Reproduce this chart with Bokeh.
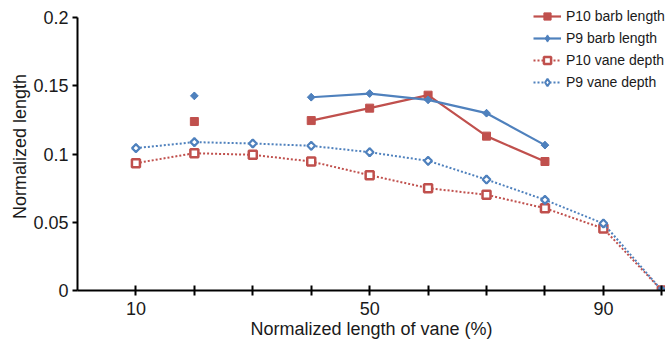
import math
from bokeh.plotting import figure
from bokeh.models import Range1d, FixedTicker
from bokeh.embed import file_html
from bokeh.resources import INLINE

x = [10, 20, 30, 40, 50, 60, 70, 80, 90, 100]
p10_barb = [math.nan, 0.1238, math.nan, 0.1245, 0.1336, 0.1431, 0.1131, 0.0945, math.nan, math.nan]
p9_barb = [math.nan, 0.1426, math.nan, 0.1416, 0.1443, 0.1397, 0.1299, 0.1065, math.nan, math.nan]
p10_vane = [0.0933, 0.1006, 0.0994, 0.0945, 0.0845, 0.0750, 0.0701, 0.0603, 0.0454, 0.0]
p9_vane = [0.1043, 0.1087, 0.1077, 0.1060, 0.1013, 0.0950, 0.0813, 0.0664, 0.0491, 0.0]
y_ticks = [0, 0.05, 0.1, 0.15, 0.2]
y_labels = {0: "0", 0.05: "0.05", 0.1: "0.1", 0.15: "0.15", 0.2: "0.2"}
x_ticks = [10, 20, 30, 40, 50, 60, 70, 80, 90, 100]
x_labels = {10: "10", 50: "50", 90: "90"}

RED = "#C0504D"
BLUE = "#4F81BD"
FONT = "Liberation Sans"
TXT = "#1a1a1a"
ROT = math.pi / 4

p = figure(frame_width=588, frame_height=288, output_backend="svg", toolbar_location=None,
           x_range=Range1d(0, 100.63), y_range=Range1d(0, 0.211),
           min_border_left=77, min_border_right=0, min_border_top=2, min_border_bottom=51)
p.outline_line_color = None
p.grid.visible = False
p.background_fill_color = "white"

# P10 barb length
p.line(x, p10_barb, line_color=RED, line_width=2.2, legend_label="P10 barb length")
p.scatter(x, p10_barb, marker="square", size=8, fill_color=RED, line_color=RED,
          legend_label="P10 barb length")
# P9 barb length (narrow diamond for the legend, hidden under the rotated square)
p.line(x, p9_barb, line_color=BLUE, line_width=2.2, legend_label="P9 barb length")
p.scatter(x, p9_barb, marker="diamond", size=7, fill_color=BLUE, line_color=BLUE,
          legend_label="P9 barb length")
p.scatter(x, p9_barb, marker="square", size=5.5, angle=ROT, fill_color=BLUE, line_color=BLUE,
          line_width=1)
# P10 vane depth
p.line(x, p10_vane, line_color=RED, line_width=2, line_dash="2 2", legend_label="P10 vane depth")
p.scatter(x, p10_vane, marker="square", size=8, fill_color="white", line_color=RED, line_width=2.5,
          legend_label="P10 vane depth")
# P9 vane depth
p.line(x, p9_vane, line_color=BLUE, line_width=2, line_dash="2 2", legend_label="P9 vane depth")
p.scatter(x, p9_vane, marker="diamond", size=8, fill_color="white", line_color=BLUE, line_width=2,
          legend_label="P9 vane depth")
p.scatter(x, p9_vane, marker="square", size=5.5, angle=ROT, fill_color="white", line_color=BLUE,
          line_width=2.2)

# axes
for ax in (p.xaxis[0], p.yaxis[0]):
    ax.axis_line_color = "black"
    ax.axis_line_width = 2
    ax.major_tick_line_color = "black"
    ax.major_tick_line_width = 2
    ax.minor_tick_line_color = None
    ax.major_label_text_font = FONT
    ax.major_label_text_font_size = "18px"
    ax.major_label_text_color = TXT
    ax.axis_label_text_font = FONT
    ax.axis_label_text_font_size = "18px"
    ax.axis_label_text_font_style = "normal"
    ax.axis_label_text_color = TXT

p.xaxis.ticker = FixedTicker(ticks=x_ticks)
p.xaxis.major_label_overrides = {t: x_labels.get(t, "") for t in x_ticks}
p.xaxis.major_tick_in = 5
p.xaxis.major_tick_out = 5
p.xaxis.axis_label = "Normalized length of vane (%)"
p.xaxis.axis_label_standoff = 1
p.xaxis.major_label_standoff = 6

p.yaxis.ticker = FixedTicker(ticks=y_ticks)
p.yaxis.bounds = (0, 0.2)
p.yaxis.major_label_overrides = y_labels
p.yaxis.major_tick_in = 0
p.yaxis.major_tick_out = 5
p.yaxis.axis_label = "Normalized length"
p.yaxis.axis_label_standoff = 0
p.yaxis.major_label_standoff = 4

# legend
lg = p.legend[0]
lg.location = (456, 199)
lg.border_line_color = None
lg.background_fill_alpha = 0
lg.padding = 2
lg.margin = 0
lg.spacing = 4
lg.glyph_width = 28
lg.glyph_height = 18
lg.label_height = 18
lg.label_standoff = 5
lg.label_text_font = FONT
lg.label_text_font_size = "14px"
lg.label_text_color = TXT

open("out.html", "w").write(file_html(p, INLINE))
